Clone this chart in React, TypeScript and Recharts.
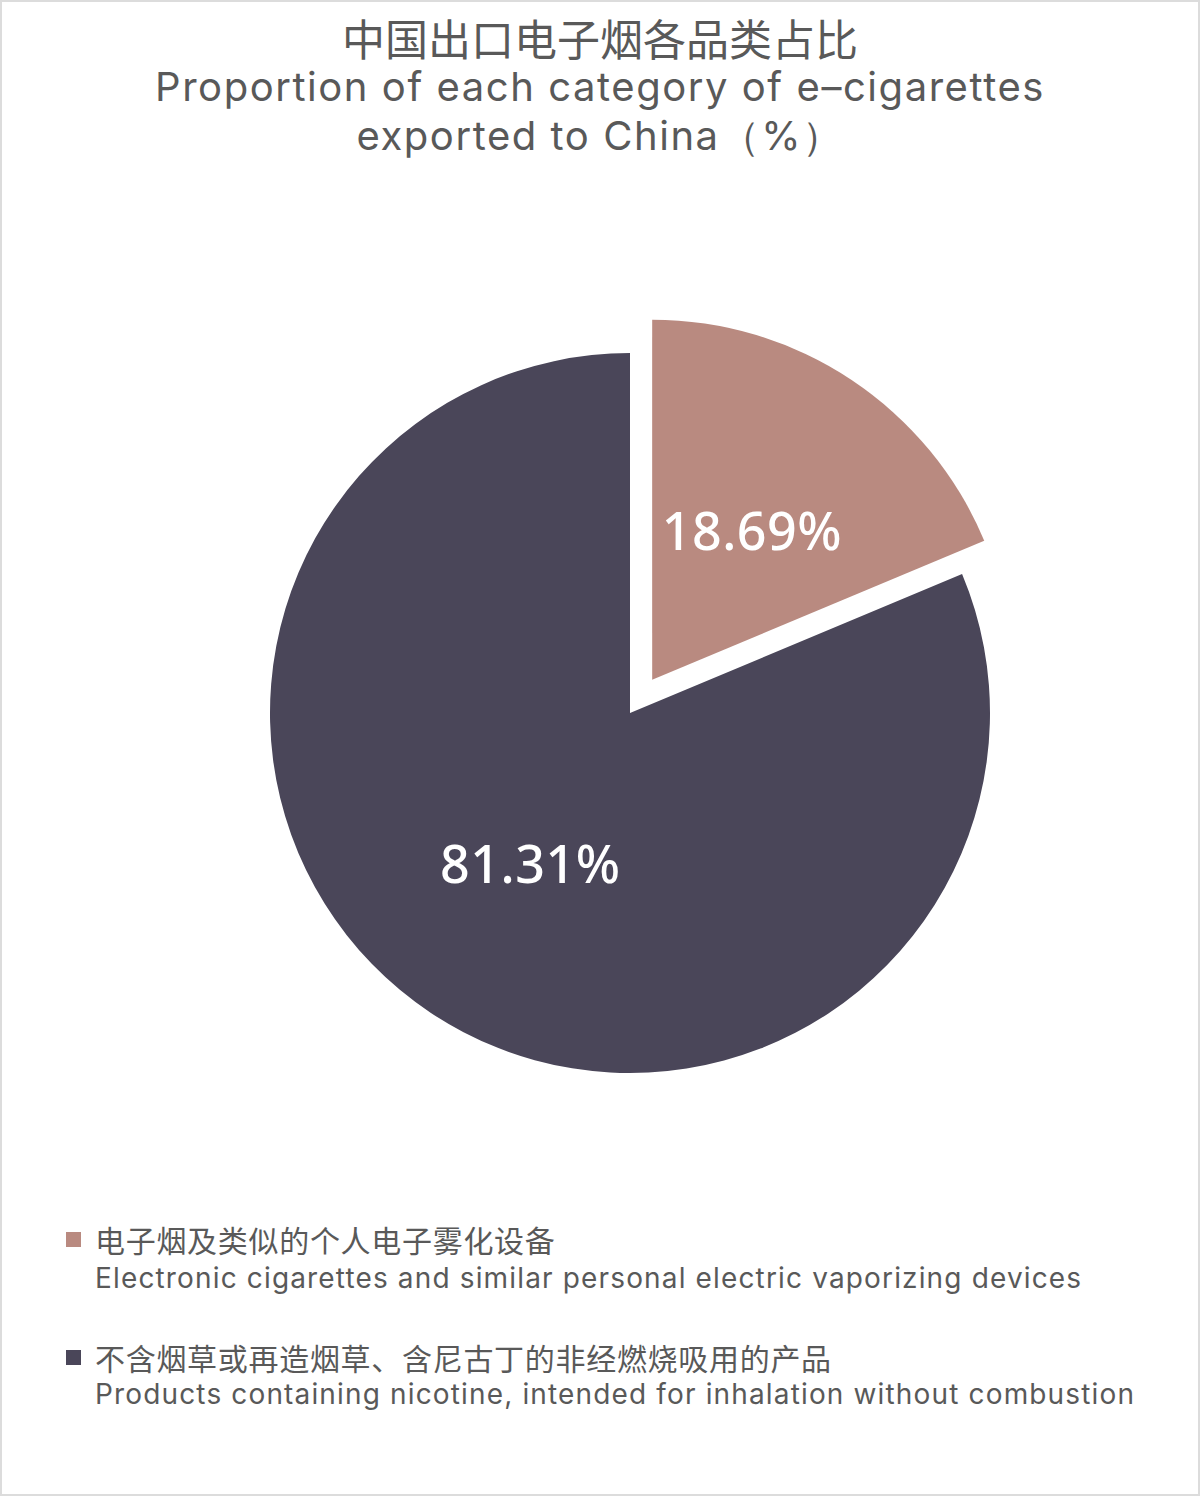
import React from "react";
import { PieChart, Pie, Cell } from "recharts";

const categoriesZh: string[] = [
  "电子烟及类似的个人电子雾化设备",
  "不含烟草或再造烟草、含尼古丁的非经燃烧吸用的产品",
];
const categoriesEn: string[] = [
  "Electronic cigarettes and similar personal electric vaporizing devices",
  "Products containing nicotine, intended for inhalation without combustion",
];
const shares: number[] = [18.69, 81.31];
const colors: string[] = ["#b98a80", "#4a4659"];
const titleLines: string[] = [
  "中国出口电子烟各品类占比",
  "Proportion of each category of e–cigarettes",
  "exported to China（%）",
];

const W = 1200;
const H = 1496;
const CX = 630;
const CY = 713;
const R = 360;
const EXPLODE = 40;

const data = categoriesEn.map((name, i) => ({ name, value: shares[i] }));

const total = shares.reduce((a, b) => a + b, 0);
const midDeg = 90 - ((shares[0] / total) * 360) / 2;
const dx = EXPLODE * Math.cos((midDeg * Math.PI) / 180);
const dy = -EXPLODE * Math.sin((midDeg * Math.PI) / 180);

const RAD = Math.PI / 180;
const EN_FONT = "Inter, 'Noto Sans', sans-serif";

const makeLabel = (only: number) => (props: any) => {
  const { cx, cy, midAngle, outerRadius, index, value } = props;
  if (index !== only) return null;
  const r = outerRadius * 0.5;
  const x = cx + r * Math.cos(-midAngle * RAD);
  const y = cy + r * Math.sin(-midAngle * RAD);
  return (
    <text
      x={x}
      y={y}
      fill="#ffffff"
      textAnchor="middle"
      dominantBaseline="central"
      fontFamily="'Noto Sans', sans-serif"
      fontWeight={500}
      fontSize={52}
      letterSpacing={0.5}
    >
      {value.toFixed(2)}%
    </text>
  );
};

const titleCenters = [37, 87, 136];

export default function App() {
  return (
    <div
      style={{
        position: "relative",
        width: W,
        height: H,
        background: "#ffffff",
        overflow: "hidden",
      }}
    >
      <style>{"body{margin:0}"}</style>
      {titleLines.map((t, i) => (
        <div
          key={t}
          style={{
            position: "absolute",
            top: titleCenters[i] - 22,
            left: 0,
            width: W,
            height: 44,
            lineHeight: "44px",
            textAlign: "center",
            color: "#595959",
            fontFamily: i === 0 ? "'Noto Sans CJK SC', sans-serif" : EN_FONT,
            fontSize: i === 0 ? 43 : 40,
            letterSpacing: i === 0 ? 0 : 1.55,
            whiteSpace: "nowrap",
          }}
        >
          {t}
        </div>
      ))}
      <div style={{ position: "absolute", left: 0, top: 0 }}>
        <PieChart width={W} height={H} margin={{ top: 0, right: 0, bottom: 0, left: 0 }}>
          <Pie
            data={data}
            dataKey="value"
            nameKey="name"
            cx={CX}
            cy={CY}
            outerRadius={R}
            startAngle={90}
            endAngle={-270}
            stroke="none"
            isAnimationActive={false}
            label={makeLabel(1)}
            labelLine={false}
          >
            {data.map((d, i) => (
              <Cell key={d.name} fill={i === 0 ? "transparent" : colors[i]} />
            ))}
          </Pie>
          <Pie
            data={data}
            dataKey="value"
            nameKey="name"
            cx={CX + dx}
            cy={CY + dy}
            outerRadius={R}
            startAngle={90}
            endAngle={-270}
            stroke="none"
            isAnimationActive={false}
            label={makeLabel(0)}
            labelLine={false}
          >
            {data.map((d, i) => (
              <Cell key={d.name} fill={i === 0 ? colors[i] : "transparent"} />
            ))}
          </Pie>
        </PieChart>
      </div>
      {data.map((d, i) => (
        <React.Fragment key={d.name}>
          <div
            style={{
              position: "absolute",
              left: 66,
              top: 1239 + i * 118 - 18,
              height: 36,
              display: "flex",
              alignItems: "center",
              color: "#595959",
              fontFamily: "'Noto Sans CJK SC', sans-serif",
              fontSize: 30,
              letterSpacing: 0.7,
              whiteSpace: "nowrap",
            }}
          >
            <span
              style={{
                display: "inline-block",
                width: 15,
                height: 15,
                background: colors[i],
                marginRight: 14,
              }}
            />
            {categoriesZh[i]}
          </div>
          <div
            style={{
              position: "absolute",
              left: 95,
              top: 1278 + i * 116 - 18,
              height: 36,
              lineHeight: "36px",
              color: "#595959",
              fontFamily: EN_FONT,
              fontSize: 28,
              letterSpacing: 1.15,
              whiteSpace: "nowrap",
            }}
          >
            {categoriesEn[i]}
          </div>
        </React.Fragment>
      ))}
      <div
        style={{
          position: "absolute",
          inset: 0,
          border: "2px solid #dcdcdc",
          pointerEvents: "none",
        }}
      />
    </div>
  );
}
